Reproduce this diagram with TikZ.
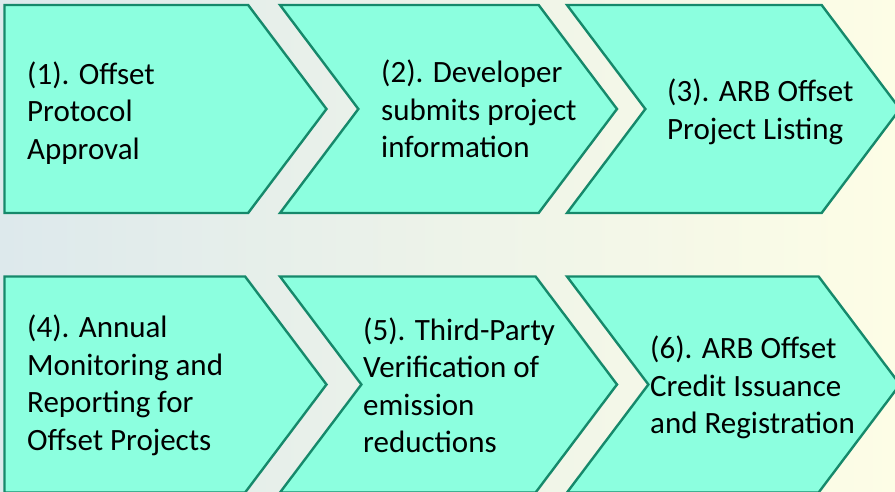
\documentclass[tikz,border=0pt]{standalone}
\usepackage{fontspec}
\setmainfont{Carlito}
\usetikzlibrary{shapes.symbols}
\definecolor{chevfill}{HTML}{8CFFDF}
\definecolor{chevline}{HTML}{16896B}
\definecolor{bgleft}{HTML}{DDE9EC}
\definecolor{bgright}{HTML}{FDFDE6}

\begin{document}
\begin{tikzpicture}[
    x=1pt, y=-1pt,
    chev/.style={
        shape=signal,
        signal to=east,
        signal from=west,
        signal pointer angle=106,
        draw=chevline,
        fill=chevfill,
        line width=2.4pt,
        inner sep=0pt,
        minimum height=208pt
    },
    firstchev/.style={chev, signal from=nowhere, anchor=east},
    lowrow/.style={minimum height=216pt},
    label/.style={
        anchor=west,
        inner sep=0pt,
        align=left,
        font=\fontsize{31}{37.5}\selectfont
    }
]

% Background
\useasboundingbox (0,0) rectangle (895,492);
\shade[left color=bgleft, right color=bgright] (0,0) rectangle (895,492);

% Top row
\node[firstchev, minimum width=322pt] (c1) at (328,109) {};
\node[chev, minimum width=337pt] (c2) at (448.5,109) {};
\node[chev, minimum width=333pt] (c3) at (733.5,109) {};

% Bottom row
\node[firstchev, lowrow, minimum width=322pt] (c4) at (328,384.5) {};
\node[chev, lowrow, minimum width=337pt] (c5) at (448.5,384.5) {};
\node[chev, lowrow, minimum width=333pt] (c6) at (733.5,384.5) {};

% Step labels
\node[label] (t1) at (27,113) {(1). Offset\\Protocol\\Approval};
\node[label] (t2) at (381,109) {(2). Developer\\submits project\\information};
\node[label] (t3) at (667,112) {(3). ARB Offset\\Project Listing};
\node[label] (t4) at (27,385.5) {(4). Annual\\Monitoring and\\Reporting for\\Offset Projects};
\node[label] (t5) at (363,385.5) {(5). Third-Party\\Verification of\\emission\\reductions};
\node[label] (t6) at (650,387.5) {(6). ARB Offset\\Credit Issuance\\and Registration};

\end{tikzpicture}
\end{document}
